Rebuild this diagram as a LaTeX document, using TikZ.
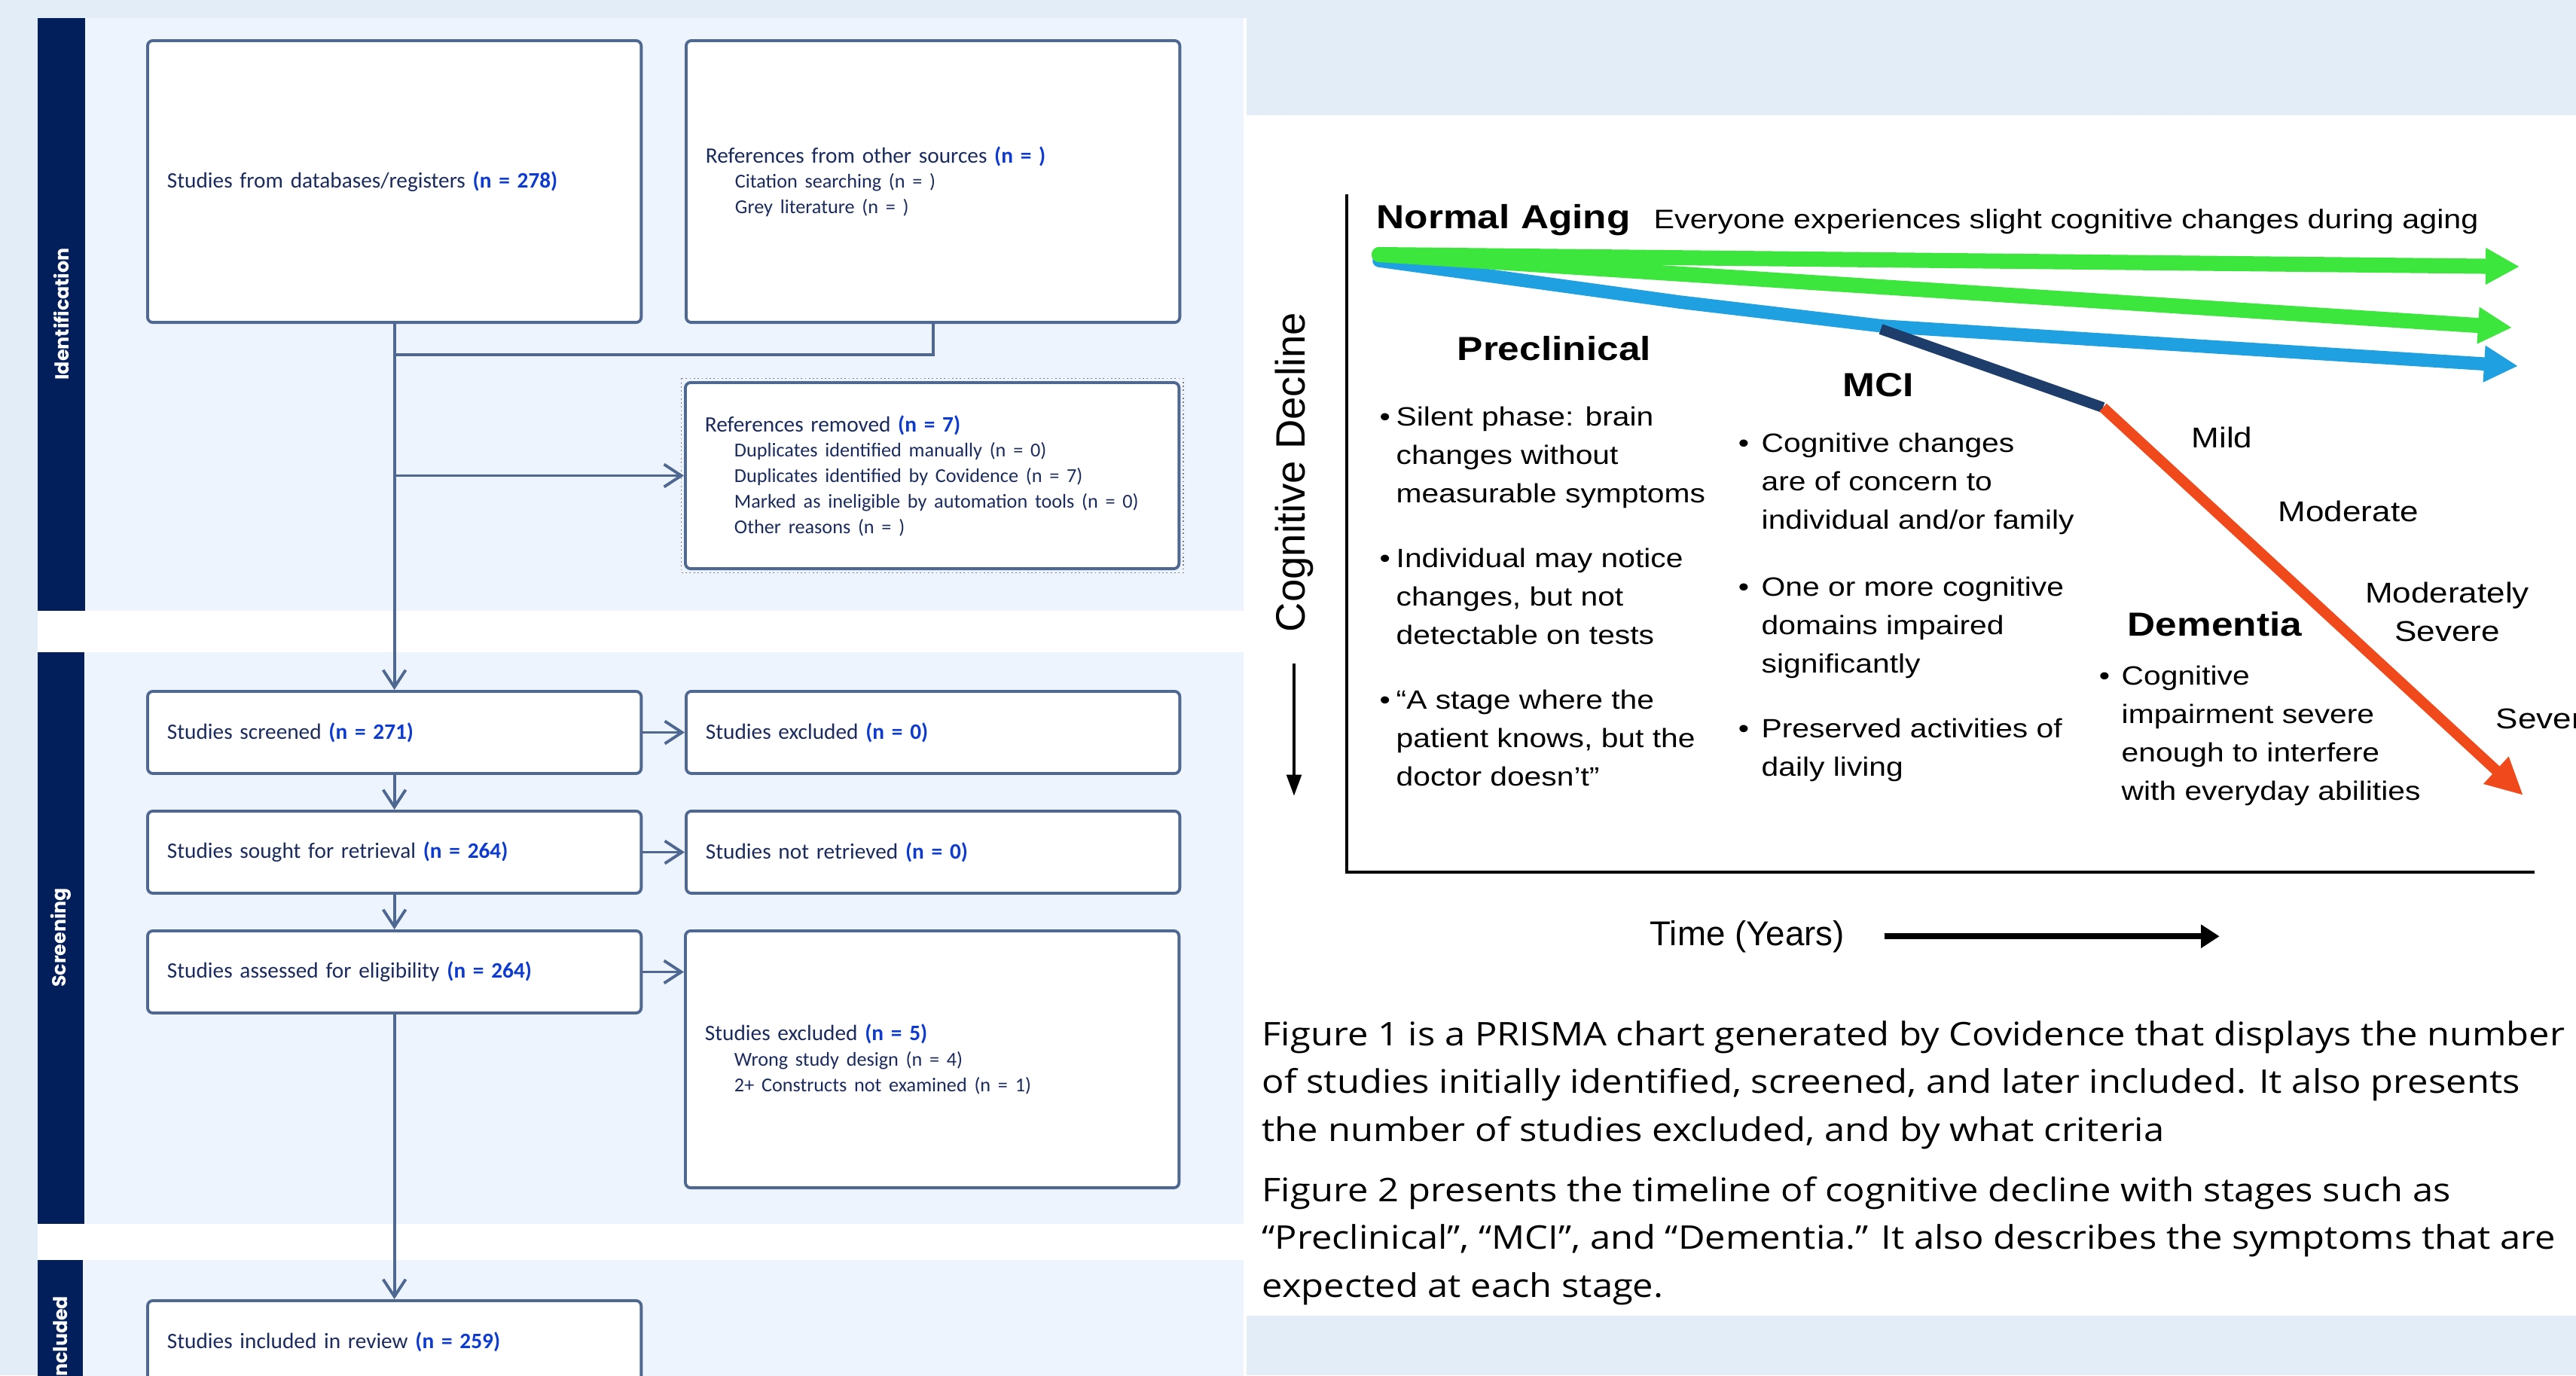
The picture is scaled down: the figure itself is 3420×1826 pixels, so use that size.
\documentclass[tikz,border=0pt]{standalone}
\usepackage{fontspec}
\setmainfont{Carlito}
\newfontfamily\chartfont[FakeStretch=1.16]{Liberation Sans}
\newfontfamily\plainarial{Liberation Sans}
\newfontfamily\notefont[FakeStretch=1.13]{Open Sans}
\newfontfamily\barfont{Poppins}
\usetikzlibrary{arrows.meta}

\definecolor{pagebg}{HTML}{E3EDF7}
\definecolor{bandfill}{HTML}{EDF4FD}
\definecolor{bandnavy}{HTML}{021F5B}
\definecolor{boxline}{HTML}{4F6891}
\definecolor{boxtext}{HTML}{1B2B5E}
\definecolor{countblue}{HTML}{0D3BD0}
\definecolor{agegreen}{HTML}{3DE63D}
\definecolor{ageblue}{HTML}{1FA0E0}
\definecolor{mcinavy}{HTML}{1F3D6B}
\definecolor{demorange}{HTML}{F04A1C}

\newcommand\nval[1]{{\color{countblue}\bfseries(#1)}}
\newcommand\subln{\hspace*{0.39cm}\fontsize{7.45pt}{9.6pt}\selectfont}
\newcommand\bul[1]{\llap{\makebox[#1][l]{•}}}

\tikzset{
  prisma/.style={draw=boxline, line width=1.1pt, rounded corners=2pt, fill=white,
    anchor=north west, inner sep=0pt, minimum width=6.55cm, text width=6.03cm,
    align=left, text=boxtext, font=\fontsize{8.33pt}{9.6pt}\selectfont},
  flow/.style={draw=boxline, line width=1.1pt, -{Straight Barb[length=6.5pt,width=8.5pt]}},
  link/.style={draw=boxline, line width=1.1pt},
  bandlabel/.style={rotate=90, text=white, font=\barfont\bfseries\fontsize{7.2pt}{8pt}\selectfont},
  head/.style={anchor=base west, inner sep=0pt, font=\chartfont\bfseries\fontsize{12.6pt}{15pt}\selectfont},
  stage/.style={anchor=base west, inner sep=0pt, font=\chartfont\fontsize{10.8pt}{14.5pt}\selectfont},
  bullets/.style={anchor=north west, inner sep=0pt, align=left,
    font=\chartfont\fontsize{10pt}{14.5pt}\selectfont},
  note/.style={anchor=north west, inner sep=0pt, align=left,
    font=\notefont\fontsize{12.3pt}{18.1pt}\selectfont},
  agearrow/.style={line width=#1, line cap=round, line join=round,
    -{Triangle[length=12.8pt,width=13pt]}}
}

\begin{document}
\begin{tikzpicture}[x=0.01cm, y=-0.01cm]
\useasboundingbox (0,0) rectangle (3420,1826);
\clip (0,0) rectangle (3420,1826);
\fill[pagebg] (0,0) rectangle (3420,1826);

% left panel: PRISMA flow
\fill[white] (50,24) rectangle (1655,1826);
\fill[bandfill] (113,24) rectangle (1651,811);
\fill[bandfill] (112,866) rectangle (1651,1625);
\fill[bandfill] (110,1673) rectangle (1651,1840);
\fill[bandnavy] (50,24) rectangle (113,811);
\fill[bandnavy] (50,866) rectangle (112,1625);
\fill[bandnavy] (50,1673) rectangle (110,1840);
\node[bandlabel] (idlab) at (81,417) {Identification};
\node[bandlabel] (scrlab) at (81,1245) {Screening};
\node[bandlabel] (inclab) at (80,1778) {Included};

\node[prisma, minimum height=3.74cm] (db) at (194,52)
  {Studies from databases/registers \nval{n = 278}};
\node[prisma, minimum height=3.74cm] (other) at (909,52)
  {References from other sources \nval{n = }\\
   \subln Citation searching (n = )\\
   \subln Grey literature (n = )};
\node[prisma, minimum height=2.47cm] (rem) at (908,506)
  {References removed \nval{n = 7}\\
   \subln Duplicates identified manually (n = 0)\\
   \subln Duplicates identified by Covidence (n = 7)\\
   \subln Marked as ineligible by automation tools (n = 0)\\
   \subln Other reasons (n = )};
\draw[densely dotted, gray, line width=0.5pt]
  ([xshift=-1pt,yshift=1pt]rem.north west) rectangle ([xshift=1pt,yshift=-1pt]rem.south east);

\node[prisma, minimum height=1.09cm] (scr) at (194,916)
  {Studies screened \nval{n = 271}};
\node[prisma, minimum height=1.09cm] (exc0) at (909,916)
  {Studies excluded \nval{n = 0}};
\node[prisma, minimum height=1.09cm] (sought) at (194,1075)
  {Studies sought for retrieval \nval{n = 264}};
\node[prisma, minimum height=1.09cm] (notret) at (909,1075)
  {Studies not retrieved \nval{n = 0}};
\node[prisma, minimum height=1.09cm] (asm) at (194,1234)
  {Studies assessed for eligibility \nval{n = 264}};
\node[prisma, minimum height=3.41cm] (exc5) at (908,1234)
  {Studies excluded \nval{n = 5}\\
   \subln Wrong study design (n = 4)\\
   \subln 2+ Constructs not examined (n = 1)};
\node[prisma, minimum height=1.09cm] (incl) at (194,1725)
  {Studies included in review \nval{n = 259}};

\path (db.south) ++(0,41) coordinate (join);
\draw[link] (other.south) |- (join);
\draw[flow] (db.south) -- (scr.north);
\draw[flow] (db.south |- rem.west) -- (rem.west);
\draw[flow] (scr.east) -- (exc0.west);
\draw[flow] (scr.south) -- (sought.north);
\draw[flow] (sought.east) -- (notret.west);
\draw[flow] (sought.south) -- (asm.north);
\draw[flow] (asm.east) -- (asm.east -| exc5.west);
\draw[flow] (asm.south) -- (incl.north);

% right panel: cognitive decline chart
\fill[white] (1655,153) rectangle (3420,1747);
\draw[line width=1.3pt] (1788,258) -- (1788,1158) -- (3365,1158);

\draw[agearrow=5pt, ageblue] (1831,346) -- (2230,401) -- (2500,433) -- (3343,486);
\draw[agearrow=5.7pt, agegreen] (1831,338) -- (3345,354);
\draw[agearrow=5.7pt, agegreen] (1831,338) -- (3335,435);
\draw[line width=4pt, mcinavy] (2497,437) -- (2792,541);
\draw[line width=4pt, demorange, -{Triangle[length=14pt,width=13pt]}] (2792,541) -- (3350,1056);

\node[head] (normal) at (1827,303) {Normal Aging};
\node[anchor=base west, inner sep=0pt, font=\chartfont\fontsize{10.1pt}{12pt}\selectfont]
  (everyone) at (2195,303) {Everyone experiences slight cognitive changes during aging};
\node[head] (precl) at (1934,478) {Preclinical};
\node[head] (mci) at (2446,526) {MCI};
\node[head] (dem) at (2824,844) {Dementia};

\node[bullets] (pc1) at (1853,529) {\strut\bul{6.3pt}Silent phase: brain\\changes without\\measurable symptoms};
\node[bullets] (pc2) at (1853,717) {\strut\bul{6.3pt}Individual may notice\\changes, but not\\detectable on tests};
\node[bullets] (pc3) at (1853,905) {\strut\bul{6.3pt}“A stage where the\\patient knows, but the\\doctor doesn’t”};
\node[bullets] (mc1) at (2338,564) {\strut\bul{8.8pt}Cognitive changes\\are of concern to\\individual and/or family};
\node[bullets] (mc2) at (2338,755) {\strut\bul{8.8pt}One or more cognitive\\domains impaired\\significantly};
\node[bullets] (mc3) at (2338,943) {\strut\bul{8.8pt}Preserved activities of\\daily living};
\node[bullets] (dm1) at (2816,873) {\strut\bul{8.5pt}Cognitive\\impairment severe\\enough to interfere\\with everyday abilities};

\node[stage] (mild) at (2909,594) {Mild};
\node[stage] (moderate) at (3024,692) {Moderate};
\node[stage, anchor=north, align=center] (modsev) at (3249,764) {\strut Moderately\\Severe};
\node[stage] (severe) at (3313,967) {Severe};

\node[rotate=90, inner sep=0pt, font=\plainarial\fontsize{15.5pt}{18pt}\selectfont]
  (declab) at (1718,627) {Cognitive Decline};
\draw[line width=1.2pt, -{Triangle[length=8pt,width=5.5pt]}] (declab.west) ++(0,41) -- ++(0,176);
\node[anchor=base west, inner sep=0pt, font=\plainarial\fontsize{13pt}{15pt}\selectfont]
  (timelab) at (2190,1255) {Time (Years)};
\draw[line width=2.3pt, -{Triangle[length=7pt,width=8.5pt]}] (timelab.east) ++(52,0) -- ++(445,0);

\node[note] (fig1) at (1675,1343)
  {\strut Figure 1 is a PRISMA chart generated by Covidence that displays the number\\
   of studies initially identified, screened, and later included. It also presents\\
   the number of studies excluded, and by what criteria};
\node[note] (fig2) at (1675,1550)
  {\strut Figure 2 presents the timeline of cognitive decline with stages such as\\
   “Preclinical”, “MCI”, and “Dementia.” It also describes the symptoms that are\\
   expected at each stage.};
\end{tikzpicture}
\end{document}
